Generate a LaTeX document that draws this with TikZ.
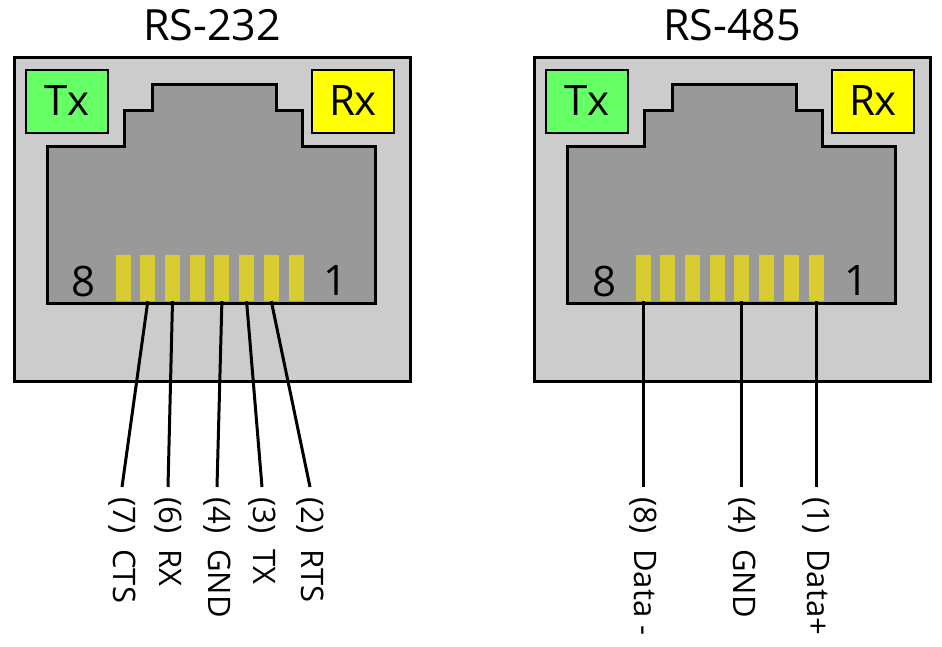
\documentclass[tikz,border=0pt]{standalone}
\usepackage{fontspec}
\setmainfont{Open Sans}
\definecolor{shell}{HTML}{CCCCCC}
\definecolor{cavity}{HTML}{999999}
\definecolor{pin}{HTML}{D9CC33}
\definecolor{txgreen}{HTML}{66FF66}
\definecolor{rxyellow}{HTML}{FFFF00}
\tikzset{
  box/.style={draw=black, line width=3pt},
  led/.style={draw=black, line width=2pt, minimum width=82pt, minimum height=63pt, inner sep=0pt, font=\fontsize{42}{42}\selectfont},
  pinbar/.style={fill=pin, minimum width=15pt, minimum height=46pt, inner sep=0pt},
  wire/.style={line width=3pt},
  sig/.style={rotate=-90, anchor=west, inner sep=0pt, font=\fontsize{31}{31}\selectfont},
  title/.style={font=\fontsize{43}{43}\selectfont},
  num/.style={font=\fontsize{42}{42}\selectfont}
}
\begin{document}
\begin{tikzpicture}[x=1pt,y=-1pt]
\useasboundingbox (0,0) rectangle (942,646);
\foreach \ox/\nm/\ttl in {0/L/RS-232,520/R/RS-485}{
  \begin{scope}[xshift=\ox]
    \node[title] (\nm title) at (212,25) {\ttl};
    \draw[box, fill=shell] (14,57) rectangle (410,381);
    \draw[box, fill=cavity] (47,303) -- (47,146) -- (124,146) -- (124,110) -- (152,110) -- (152,84)
      -- (276,84) -- (276,110) -- (302,110) -- (302,146) -- (375,146) -- (375,303) -- cycle;
    \node[led, fill=txgreen] (\nm tx) at (67,101) {Tx};
    \node[led, fill=rxyellow] (\nm rx) at (353,101) {Rx};
    \foreach \i in {1,...,8}
      \node[pinbar] (\nm p\i) at ({296-(\i-1)*24.7},278) {};
    \node[num] (\nm n8) at (84,281) {8};
    \node[num] (\nm n1) at (336,281) {1};
  \end{scope}
}
% RS-232 signal labels
\coordinate (e7) at (122,487);
\coordinate (e6) at (168,487);
\coordinate (e4) at (217,487);
\coordinate (e3) at (262,487);
\coordinate (e2) at (310,487);
\node[sig] (s7) at (122,497) {(7)\ \ CTS};
\node[sig] (s6) at (168,497) {(6)\ \ RX};
\node[sig] (s4) at (217,497) {(4)\ \ GND};
\node[sig] (s3) at (262,497) {(3)\ \ TX};
\node[sig] (s2) at (310,497) {(2)\ \ RTS};
\foreach \i in {7,6,4,3,2}
  \draw[wire] (Lp\i.south) -- (e\i);
% RS-485 signal labels
\coordinate (f8) at (Rp8.south |- 0,487);
\coordinate (f4) at (Rp4.south |- 0,487);
\coordinate (f1) at (Rp1.south |- 0,487);
\node[sig] (t8) at (f8 |- 0,497) {(8)\ \ Data -};
\node[sig] (t4) at (f4 |- 0,497) {(4)\ \ GND};
\node[sig] (t1) at (f1 |- 0,497) {(1)\ \ Data+};
\foreach \i in {8,4,1}
  \draw[wire] (Rp\i.south) -- (f\i);
\end{tikzpicture}
\end{document}
